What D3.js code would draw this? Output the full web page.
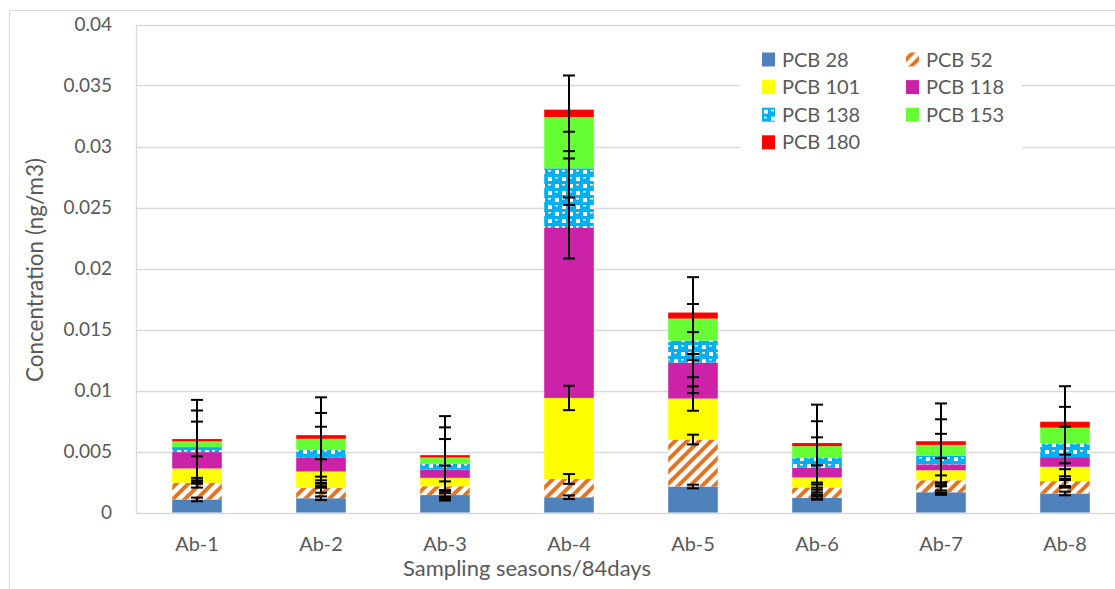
<!DOCTYPE html>
<html>
<head>
<meta charset="utf-8">
<script src="https://cdn.jsdelivr.net/npm/d3@7"></script>
<style>
    body { margin: 0; background: #fff; }
    text { font-family: Lato, "Liberation Sans", sans-serif; fill: #595959; }
</style>
</head>
<body>
<div id="chartDiv"></div>
<script>
// values (ng/m3)
let categories = ["Ab-1", "Ab-2", "Ab-3", "Ab-4", "Ab-5", "Ab-6", "Ab-7", "Ab-8"];
let seriesNames = ["PCB 28", "PCB 52", "PCB 101", "PCB 118", "PCB 138", "PCB 153", "PCB 180"];

let pcb28 = [0.00107, 0.00117, 0.00143, 0.00125, 0.00213, 0.00120, 0.00166, 0.00156];
let pcb52 = [0.00137, 0.00085, 0.00072, 0.00150, 0.00385, 0.00085, 0.00098, 0.00101];
let pcb101 = [0.00117, 0.00134, 0.00069, 0.00664, 0.00336, 0.00082, 0.00082, 0.00118];
let pcb118 = [0.00134, 0.00117, 0.00068, 0.01393, 0.00295, 0.00079, 0.00049, 0.00079];
let pcb138 = [0.00041, 0.00063, 0.00046, 0.00489, 0.00180, 0.00082, 0.00069, 0.00112];
let pcb153 = [0.00047, 0.00088, 0.00052, 0.00421, 0.00180, 0.00096, 0.00090, 0.00129];
let pcb180 = [0.00019, 0.00030, 0.00020, 0.00060, 0.00050, 0.00025, 0.00030, 0.00049];

// error bar amounts, one per series (same for every column)
let errPlus = [0.00015, 0.0004, 0.001, 0.0025, 0.003, 0.0034, 0];
let errMinus = [0.00015, 0.0004, 0.001, 0.0025, 0.003, 0.0034, 0.0034];

let yTicks = [0, 0.005, 0.01, 0.015, 0.02, 0.025, 0.03, 0.035, 0.04];

let allSeries = [pcb28, pcb52, pcb101, pcb118, pcb138, pcb153, pcb180];
let fills = ["#4F81BD", "url(#hatch52)", "#FFFF00", "#CC22A8", "url(#sphere138)", "#66FF33", "#FF0000"];

let width = 1115, height = 589;

let svg = d3.select("#chartDiv").append("svg")
    .attr("width", width)
    .attr("height", height);

// patterns for PCB 52 and PCB 138
let defs = svg.append("defs");
let hatch = defs.append("pattern").attr("id", "hatch52")
    .attr("patternUnits", "userSpaceOnUse")
    .attr("width", 12).attr("height", 12);
hatch.append("rect").attr("width", 12).attr("height", 12).attr("fill", "#fff");
hatch.append("path")
    .attr("d", "M0,12 L12,0 M-3,3 L3,-3 M9,15 L15,9")
    .attr("stroke", "#E8731A").attr("stroke-width", 4);

let sphere = defs.append("pattern").attr("id", "sphere138")
    .attr("patternUnits", "userSpaceOnUse")
    .attr("width", 14).attr("height", 14);
sphere.append("rect").attr("width", 14).attr("height", 14).attr("fill", "#00B0F0");
sphere.append("rect").attr("x", 9).attr("y", 2).attr("width", 4).attr("height", 4).attr("fill", "#fff");
sphere.append("rect").attr("x", 2).attr("y", 9).attr("width", 4).attr("height", 4).attr("fill", "#fff");
sphere.append("rect").attr("x", 2).attr("y", 2).attr("width", 3).attr("height", 1.5).attr("fill", "#fff");
sphere.append("rect").attr("x", 9).attr("y", 9).attr("width", 3).attr("height", 1.5).attr("fill", "#fff");

// chart area border
svg.append("rect")
    .attr("x", 9.5).attr("y", 10.5)
    .attr("width", 1200).attr("height", 700)
    .attr("fill", "none")
    .attr("stroke", "#d9d9d9");

let x = d3.scaleBand()
    .domain(categories)
    .range([135, 1127]);

let y = d3.scaleLinear()
    .domain([0, 0.04])
    .range([512.5, 24.5]);

let barWidth = x.bandwidth() * 0.4;

// gridlines
svg.append("g")
    .selectAll("line")
    .data(yTicks)
    .enter().append("line")
    .attr("x1", 136).attr("x2", 1127)
    .attr("y1", function(d) { return Math.round(y(d)) + 0.5; })
    .attr("y2", function(d) { return Math.round(y(d)) + 0.5; })
    .attr("stroke", "#d9d9d9")
    .attr("stroke-width", 1.3);

svg.append("line")
    .attr("x1", 136.5).attr("x2", 136.5)
    .attr("y1", y(0.04)).attr("y2", y(0) + 1)
    .attr("stroke", "#d9d9d9")
    .attr("stroke-width", 1.3);

// y tick labels
svg.append("g")
    .selectAll("text")
    .data(yTicks)
    .enter().append("text")
    .attr("x", 112)
    .attr("y", function(d) { return y(d); })
    .attr("dy", "0.35em")
    .attr("text-anchor", "end")
    .style("font-size", "19px")
    .text(function(d) { return d === 0 ? "0" : d3.format("")(+d.toFixed(3)); });

// stacked data
let data = categories.map(function(c, i) {
    let row = {cat: c};
    seriesNames.forEach(function(s, j) { row[s] = allSeries[j][i]; });
    return row;
});
let stack = d3.stack().keys(seriesNames)(data);

svg.append("g")
    .selectAll("g")
    .data(stack)
    .enter().append("g")
    .attr("fill", function(d, i) { return fills[i]; })
    .selectAll("rect")
    .data(function(d) { return d; })
    .enter().append("rect")
    .attr("x", function(d) { return x(d.data.cat) + (x.bandwidth() - barWidth) / 2; })
    .attr("y", function(d) { return y(d[1]); })
    .attr("width", barWidth)
    .attr("height", function(d) { return y(d[0]) - y(d[1]); });

// error bars at the top of each segment
let errGroup = svg.append("g")
    .attr("stroke", "#000")
    .attr("stroke-width", 2);

stack.forEach(function(layer, i) {
    layer.forEach(function(d) {
        let cx = x(d.data.cat) + x.bandwidth() / 2;
        let top = y(d[1] + errPlus[i]);
        let bottom = y(d[1] - errMinus[i]);
        errGroup.append("line")
            .attr("x1", cx).attr("x2", cx)
            .attr("y1", top).attr("y2", bottom);
        if (errPlus[i] > 0) {
            errGroup.append("line")
                .attr("x1", cx - 6).attr("x2", cx + 6)
                .attr("y1", top).attr("y2", top);
        }
        errGroup.append("line")
            .attr("x1", cx - 6).attr("x2", cx + 6)
            .attr("y1", bottom).attr("y2", bottom);
    });
});

// x labels
svg.append("g")
    .selectAll("text")
    .data(categories)
    .enter().append("text")
    .attr("x", function(d) { return x(d) + x.bandwidth() / 2; })
    .attr("y", 551)
    .attr("text-anchor", "middle")
    .style("font-size", "20px")
    .text(function(d) { return d; });

svg.append("text")
    .attr("x", 527)
    .attr("y", 576)
    .attr("text-anchor", "middle")
    .style("font-size", "22px")
    .text("Sampling seasons/84days");

svg.append("text")
    .attr("transform", "translate(43,270)rotate(-90)")
    .attr("text-anchor", "middle")
    .style("font-size", "22.5px")
    .text("Concentration (ng/m3)");

// legend
let legend = svg.append("g");
legend.append("rect")
    .attr("x", 740).attr("y", 42)
    .attr("width", 282).attr("height", 116)
    .attr("fill", "#fff");

let items = legend.selectAll("g.item")
    .data(seriesNames)
    .enter().append("g")
    .attr("class", "item")
    .attr("transform", function(d, i) {
        let col = i % 2, row = Math.floor(i / 2);
        return "translate(" + (762 + col * 144) + "," + (59.5 + row * 27.6) + ")";
    });

items.append("rect")
    .attr("x", 0).attr("y", -7)
    .attr("width", 13).attr("height", 14)
    .attr("fill", function(d, i) { return fills[i]; });

items.append("text")
    .attr("x", 20)
    .attr("dy", "0.35em")
    .style("font-size", "20px")
    .text(function(d) { return d; });
</script>
</body>
</html>
